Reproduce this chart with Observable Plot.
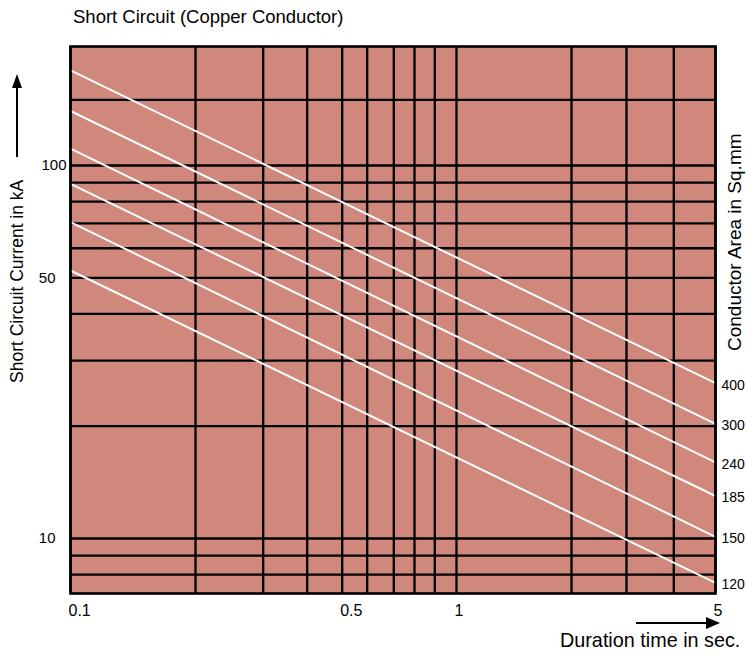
<!DOCTYPE html>
<html>
<head>
<meta charset="utf-8">
<script src="https://cdn.jsdelivr.net/npm/d3@7"></script>
<script src="https://cdn.jsdelivr.net/npm/@observablehq/plot@0.6"></script>
<style>
  body { margin: 0; background: #fff; }
  #chart { width: 747px; height: 655px; }
</style>
</head>
<body>
<div id="chart"></div>
<script>
// ---- data ----
const conductorAreas = [400, 300, 240, 185, 150, 120];          // sq.mm
const currentAtStart = [180, 140, 111, 89.3, 70.5, 52.3];        // kA at 0.1 s
const currentAtEnd   = [26.1, 20.3, 16.0, 13.0, 10.1, 7.6];      // kA at 5 s
const durationEnds   = [0.1, 5];                                  // s
const timeGrid    = [0.1, 0.2, 0.3, 0.4, 0.5, 0.6, 0.7, 0.8, 0.9, 1, 2, 3, 4, 5];
const currentGrid = [8, 9, 10, 20, 30, 40, 50, 60, 70, 80, 90, 100, 150];
const timeTickLabels = [0.1, 0.5, 1, 5];
const currentTickLabelsA = [100];
const currentTickLabelsB = [50, 10];

const rows = conductorAreas.flatMap((a, i) => [
  {t: durationEnds[0], I: currentAtStart[i], area: a},
  {t: durationEnds[1], I: currentAtEnd[i], area: a}
]);
const ends = conductorAreas.map((a, i) => ({area: a, t: durationEnds[1], I: currentAtEnd[i]}));

const FILL = "#D0877C";
const FONT = "'Liberation Sans', Arial, Helvetica, sans-serif";

const plot = Plot.plot({
  width: 747,
  height: 655,
  marginLeft: 70,
  marginRight: 32,
  marginTop: 46,
  marginBottom: 62,
  style: {fontFamily: FONT, background: "white", overflow: "visible", color: "black"},
  x: {type: "log", domain: timeGrid,
      range: [70, 195, 262.7, 306.7, 341.7, 366.7, 393.3, 414, 434.3, 456, 571, 626, 673.3, 715]},
  y: {type: "log", domain: [7.12, 208.5]},
  marks: [
    Plot.frame({fill: FILL, stroke: null}),
    Plot.ruleX(timeGrid, {stroke: "black", strokeWidth: 2.3}),
    Plot.ruleY(currentGrid, {stroke: "black", strokeWidth: 2.3}),
    Plot.line(rows, {x: "t", y: "I", z: "area", stroke: "white", strokeWidth: 2}),
    Plot.frame({stroke: "black", strokeWidth: 2.6}),
    Plot.axisX(timeTickLabels, {tickSize: 0, tickPadding: 11, textAnchor: "start", dx: -2,
      fontSize: 16, label: null, tickFormat: d => String(d)}),
    Plot.axisY(currentTickLabelsA, {tickSize: 0, tickPadding: 4, fontSize: 15,
      label: null, tickFormat: d => String(d)}),
    Plot.axisY(currentTickLabelsB, {tickSize: 0, tickPadding: 15, fontSize: 15,
      label: null, tickFormat: d => String(d)}),
    Plot.text(ends, {x: "t", y: "I", text: d => String(d.area), dx: 6, dy: 2, textAnchor: "start",
      fontSize: 14, fill: "black"})
  ]
});

document.getElementById("chart").appendChild(plot);

// ---- annotations (titles and arrows) ----
const svg = d3.select(plot);

svg.append("text")
  .attr("x", 73).attr("y", 23)
  .attr("text-anchor", "start")
  .attr("font-family", FONT).attr("font-size", 18.5).attr("fill", "black")
  .text("Short Circuit (Copper Conductor)");

// left axis title with upward arrow
svg.append("text")
  .attr("transform", `translate(23, 383) rotate(-90)`)
  .attr("text-anchor", "start")
  .attr("font-family", FONT).attr("font-size", 17.5).attr("fill", "black")
  .text("Short Circuit Current in kA");
svg.append("line").attr("x1", 17).attr("x2", 17).attr("y1", 157).attr("y2", 86)
  .attr("stroke", "black").attr("stroke-width", 2);
svg.append("path").attr("d", "M12,88 L22,88 L17,74 Z").attr("fill", "black");

// right axis title
svg.append("text")
  .attr("transform", `translate(741, 351) rotate(-90)`)
  .attr("text-anchor", "start")
  .attr("font-family", FONT).attr("font-size", 19).attr("fill", "black")
  .text("Conductor Area in Sq.mm");

// bottom arrow and x title
svg.append("line").attr("x1", 636).attr("x2", 708).attr("y1", 623).attr("y2", 623)
  .attr("stroke", "black").attr("stroke-width", 2);
svg.append("path").attr("d", "M706,617 L706,629 L720,623 Z").attr("fill", "black");
svg.append("text")
  .attr("x", 560).attr("y", 647)
  .attr("text-anchor", "start")
  .attr("font-family", FONT).attr("font-size", 19.8).attr("fill", "black")
  .text("Duration time in sec.");
</script>
</body>
</html>
